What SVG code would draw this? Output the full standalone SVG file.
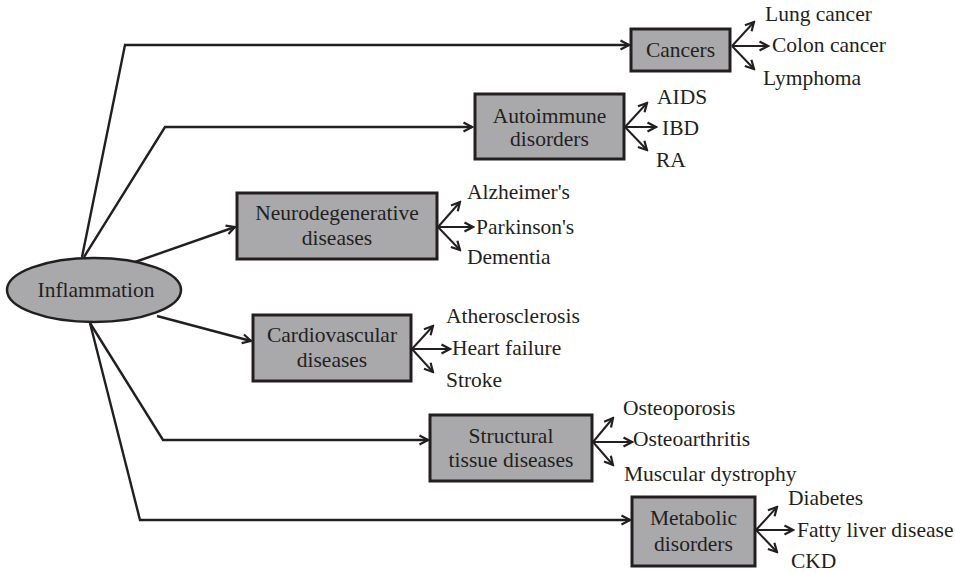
<svg xmlns="http://www.w3.org/2000/svg" width="955" height="573" viewBox="0 0 955 573">
  <style>
    text { font-family: "Liberation Serif", "Times New Roman", serif; font-size: 21.5px; fill: #231f20; }
    .mid { text-anchor: middle; }
    .box { fill: #a9a9ab; stroke: #231f20; stroke-width: 3; }
    .link { fill: none; stroke: #231f20; stroke-width: 2.4; marker-end: url(#ah); }
    .br { fill: none; stroke: #231f20; stroke-width: 2; marker-end: url(#ah); }
  </style>
  <defs>
    <marker id="ah" viewBox="0 0 12 12" refX="10.5" refY="6" markerWidth="12" markerHeight="12" orient="auto" markerUnits="userSpaceOnUse">
      <path d="M2,1.5 L10.5,6 L2,10.5" fill="none" stroke="#231f20" stroke-width="2.2" stroke-linejoin="miter"/>
    </marker>
  </defs>

  <!-- connectors from the central node -->
  <g id="connectors">
    <path class="link" d="M82,257 L125,45 L629,45"/>
    <path class="link" d="M84,257 L165,127 L472,127"/>
    <path class="link" d="M135,262 L235,227"/>
    <path class="link" d="M157,316 L251,341"/>
    <path class="link" d="M90,323 L163,440 L428,440"/>
    <path class="link" d="M90,323 L140,520 L630,520"/>

    <!-- branch arrows -->
    <path class="br" d="M732,46 L754,22"/>
    <path class="br" d="M732,46 L768,46"/>
    <path class="br" d="M732,46 L754,69"/>

    <path class="br" d="M625,127 L647,103"/>
    <path class="br" d="M625,127 L656,127"/>
    <path class="br" d="M625,127 L647,150"/>

    <path class="br" d="M438,227 L460,202"/>
    <path class="br" d="M438,227 L473,227"/>
    <path class="br" d="M438,227 L460,250"/>

    <path class="br" d="M412,349 L433,326"/>
    <path class="br" d="M412,349 L450,349"/>
    <path class="br" d="M412,349 L433,372"/>

    <path class="br" d="M593,442 L613,418"/>
    <path class="br" d="M593,442 L632,442"/>
    <path class="br" d="M593,442 L613,465"/>

    <path class="br" d="M756,530 L777,507"/>
    <path class="br" d="M756,530 L793,530"/>
    <path class="br" d="M756,530 L777,552"/>
  </g>

  <g id="inflammation">
    <ellipse cx="94" cy="290" rx="87" ry="32" fill="#a9a9ab" stroke="#231f20" stroke-width="2.5"/>
    <text class="mid" x="96" y="297">Inflammation</text>
  </g>

  <g id="cancers">
    <rect class="box" x="631" y="29" width="99" height="42"/>
    <text class="mid" x="680.5" y="57">Cancers</text>
    <text x="765" y="21">Lung cancer</text>
    <text x="772" y="52">Colon cancer</text>
    <text x="763" y="85">Lymphoma</text>
  </g>

  <g id="autoimmune">
    <rect class="box" x="475" y="94" width="149" height="65"/>
    <text class="mid" x="549.5" y="123">Autoimmune</text>
    <text class="mid" x="549.5" y="146">disorders</text>
    <text x="657" y="104">AIDS</text>
    <text x="662" y="135">IBD</text>
    <text x="656" y="167">RA</text>
  </g>

  <g id="neurodegenerative">
    <rect class="box" x="237" y="193" width="200" height="66"/>
    <text class="mid" x="337" y="220">Neurodegenerative</text>
    <text class="mid" x="337" y="245">diseases</text>
    <text x="467" y="199">Alzheimer's</text>
    <text x="476" y="234">Parkinson's</text>
    <text x="467" y="264">Dementia</text>
  </g>

  <g id="cardiovascular">
    <rect class="box" x="253" y="315" width="158" height="66"/>
    <text class="mid" x="332" y="342">Cardiovascular</text>
    <text class="mid" x="332" y="367">diseases</text>
    <text x="446" y="323">Atherosclerosis</text>
    <text x="452" y="355">Heart failure</text>
    <text x="446" y="387">Stroke</text>
  </g>

  <g id="structural">
    <rect class="box" x="430" y="415" width="162" height="66"/>
    <text class="mid" x="511" y="443">Structural</text>
    <text class="mid" x="511" y="467">tissue diseases</text>
    <text x="623" y="415">Osteoporosis</text>
    <text x="633" y="446">Osteoarthritis</text>
    <text x="624" y="481">Muscular dystrophy</text>
  </g>

  <g id="metabolic">
    <rect class="box" x="632" y="497" width="123" height="69"/>
    <text class="mid" x="693.5" y="525">Metabolic</text>
    <text class="mid" x="693.5" y="551">disorders</text>
    <text x="788" y="505">Diabetes</text>
    <text x="797" y="537">Fatty liver disease</text>
    <text x="791" y="568">CKD</text>
  </g>
</svg>
